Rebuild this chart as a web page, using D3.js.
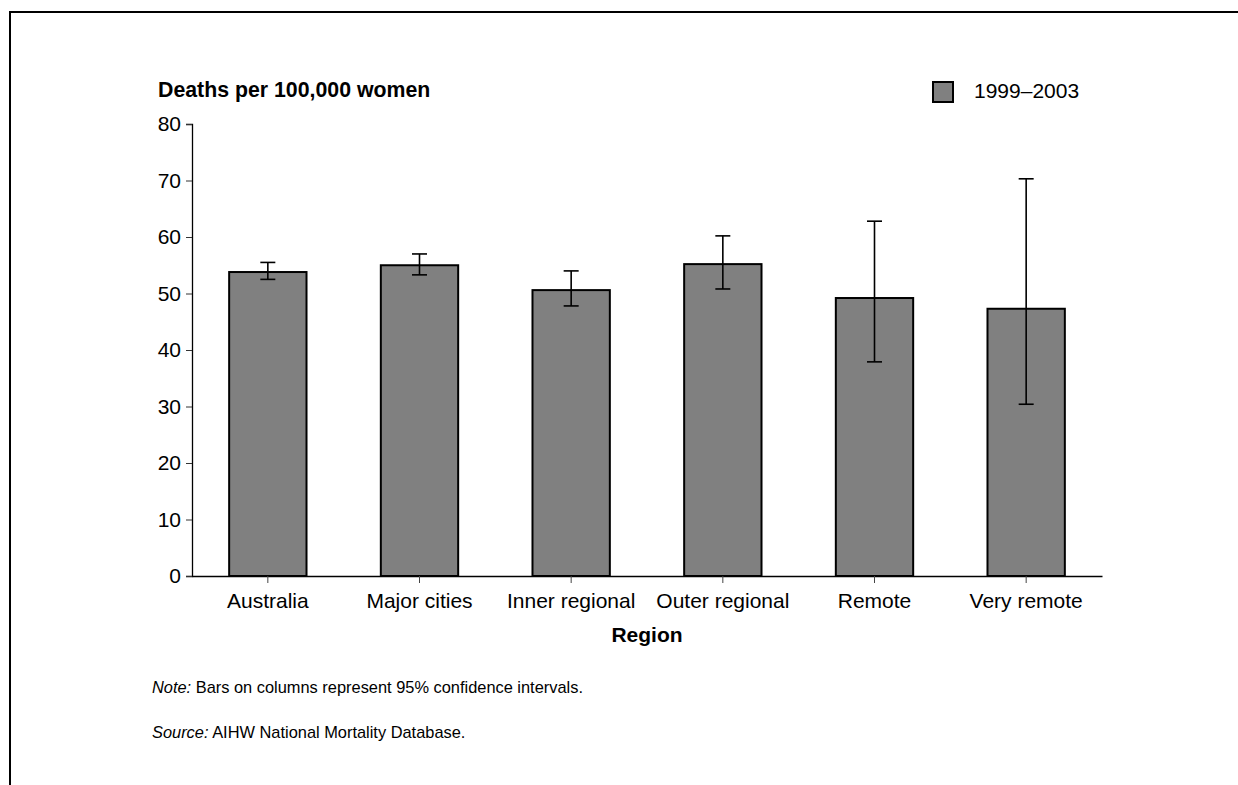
<!DOCTYPE html>
<html><head><meta charset="utf-8">
<script src="https://cdn.jsdelivr.net/npm/d3@7"></script>
<style>body{margin:0;background:#fff;} text{font-family:"Liberation Sans",Arial,sans-serif;}</style>
</head><body>
<svg id="c" width="1238" height="785"></svg>
<script>
const categories = ["Australia","Major cities","Inner regional","Outer regional","Remote","Very remote"];
const values = [53.8, 55.0, 50.6, 55.2, 49.2, 47.3];
const ciLow = [52.5, 53.3, 47.8, 50.8, 37.9, 30.4];
const ciHigh = [55.5, 57.0, 54.0, 60.2, 62.8, 70.3];
const yTicks = [0,10,20,30,40,50,60,70,80];
const seriesName = "1999–2003";

const svg = d3.select("#c");
svg.append("rect").attr("x",10).attr("y",12).attr("width",1300).attr("height",900)
  .attr("fill","none").attr("stroke","#000").attr("stroke-width",2);

const x = d3.scaleBand().domain(categories).range([192,1102]).paddingInner(0.49).paddingOuter(0.245);
const y = d3.scaleLinear().domain([0,80]).range([576,124]);

// y axis
const ya = svg.append("g").attr("transform","translate(192,0)")
  .call(d3.axisLeft(y).tickValues(yTicks).tickSize(6).tickPadding(5).tickFormat(d3.format("d")));
ya.select(".domain").attr("stroke","#000").attr("stroke-width",1.3);
ya.selectAll(".tick line").attr("stroke","#333");
ya.selectAll("text").attr("font-size",21).attr("fill","#000").style("font-family","Liberation Sans, Arial");

// bars
svg.append("g").selectAll("rect").data(categories).join("rect")
  .attr("x",d=>x(d)).attr("width",x.bandwidth())
  .attr("y",(d,i)=>y(values[i])).attr("height",(d,i)=>y(0)-y(values[i]))
  .attr("fill","#808080").attr("stroke","#000").attr("stroke-width",2);

// x axis
const xa = svg.append("g").attr("transform","translate(0,576)")
  .call(d3.axisBottom(x).tickSize(7).tickPadding(10).tickSizeOuter(0));
xa.select(".domain").attr("stroke","#000").attr("stroke-width",1.3);
xa.selectAll(".tick line").attr("stroke","#444");
xa.selectAll("text").attr("font-size",21).attr("fill","#000").style("font-family","Liberation Sans, Arial");

// error bars
const eb = svg.append("g").attr("stroke","#000").attr("stroke-width",1.6);
categories.forEach((c,i)=>{
  const cx = x(c)+x.bandwidth()/2;
  eb.append("line").attr("x1",cx).attr("x2",cx).attr("y1",y(ciLow[i])).attr("y2",y(ciHigh[i]));
  [ciLow[i],ciHigh[i]].forEach(v=>eb.append("line").attr("x1",cx-7.5).attr("x2",cx+7.5).attr("y1",y(v)).attr("y2",y(v)));
});

// titles
svg.append("text").attr("x",158).attr("y",97).attr("font-size",21.3).attr("font-weight","bold").text("Deaths per 100,000 women");
svg.append("text").attr("x",647).attr("y",642).attr("text-anchor","middle").attr("font-size",21).attr("font-weight","bold").text("Region");

// legend
svg.append("rect").attr("x",933).attr("y",82).attr("width",20).attr("height",20).attr("fill","#808080").attr("stroke","#000").attr("stroke-width",2);
svg.append("text").attr("x",974).attr("y",98).attr("font-size",21).text(seriesName);

// notes
const n1 = svg.append("text").attr("x",152).attr("y",693).attr("font-size",16.4);
n1.append("tspan").attr("font-style","italic").text("Note:");
n1.append("tspan").text(" Bars on columns represent 95% confidence intervals.");
const n2 = svg.append("text").attr("x",152).attr("y",738).attr("font-size",16.4);
n2.append("tspan").attr("font-style","italic").text("Source:");
n2.append("tspan").text(" AIHW National Mortality Database.");
</script>
</body></html>
